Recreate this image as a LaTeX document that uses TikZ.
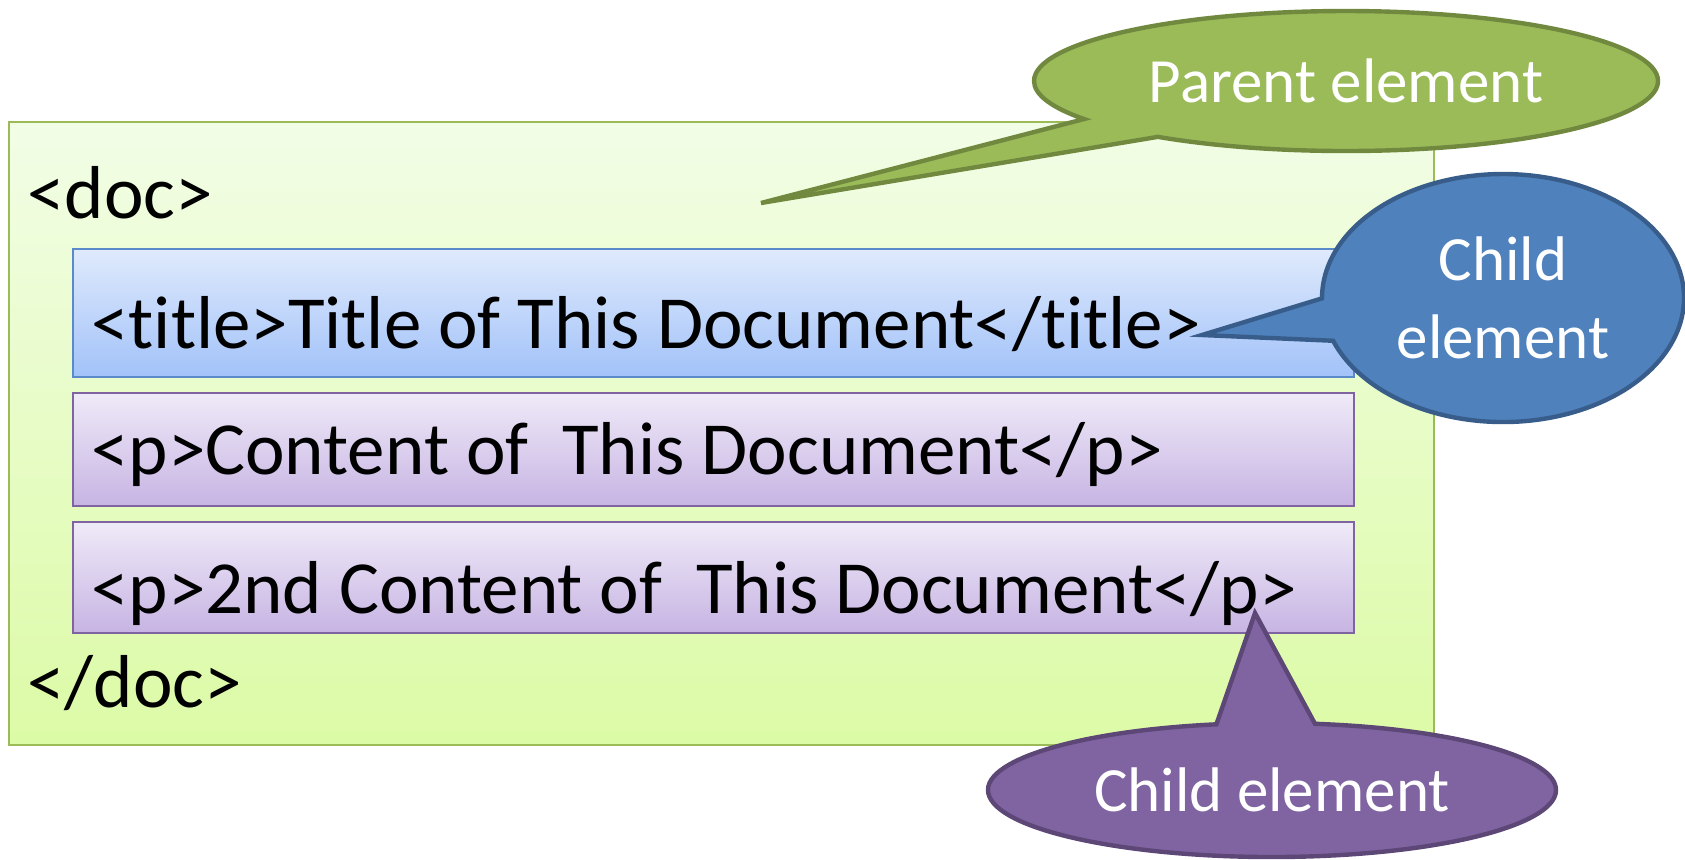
\documentclass[tikz,border=0pt]{standalone}
\usepackage{fontspec}
\setmainfont{Carlito}[Ligatures=NoCommon]
\usetikzlibrary{shapes.callouts,shapes.geometric}
\definecolor{gfill}{HTML}{9BBB59}
\definecolor{gline}{HTML}{71893F}
\definecolor{bfill}{HTML}{4F81BD}
\definecolor{bline}{HTML}{385D8A}
\definecolor{pfill}{HTML}{8064A2}
\definecolor{pline}{HTML}{5C4776}
\definecolor{outtop}{HTML}{F2FDE6}
\definecolor{outbot}{HTML}{DCFBA6}
\definecolor{outline}{HTML}{9BBB59}
\definecolor{ttop}{HTML}{DFEAFC}
\definecolor{tbot}{HTML}{A2C2F9}
\definecolor{tline}{HTML}{5B8ACB}
\definecolor{ptop}{HTML}{EFEAF8}
\definecolor{pbot}{HTML}{C7B4E3}
\tikzset{
  outerbox/.style={draw=outline, line width=1pt, top color=outtop, bottom color=outbot, inner sep=0pt},
  titlebox/.style={draw=tline, line width=0.8pt, top color=ttop, bottom color=tbot, inner sep=0pt},
  parabox/.style={draw=pfill, line width=0.8pt, top color=ptop, bottom color=pbot, inner sep=0pt},
  code/.style={anchor=base west, inner sep=0pt, font=\fontsize{37.5}{45}\selectfont},
  bubble/.style={ellipse callout, inner sep=0pt, line width=2.2pt, text=white,
    font=\fontsize{31.5}{39}\selectfont, align=center, callout pointer arc=20},
}
\begin{document}
\begin{tikzpicture}[x=0.5pt,y=-0.5pt]
\useasboundingbox (0,0) rectangle (1685,859);
% outer parent box
\node[outerbox, minimum width=712.5pt, minimum height=311.5pt] (doc) at (721.5,433.5) {};
% child boxes
\node[titlebox, minimum width=640.5pt, minimum height=64pt] (title) at (713.5,313) {};
\node[parabox, minimum width=640.5pt, minimum height=56.5pt] (p1) at (713.5,449.5) {};
\node[parabox, minimum width=640.5pt, minimum height=55.5pt] (p2) at (713.5,577.5) {};
% texts
\node[code] (docopen) at (27,218) {<doc>};
\node[code] (titletxt) at (91,348) {<title>Title of This Document</title>};
\node[code] (p1txt) at (91,474) {<p>Content of\ \ This Document</p>};
\node[code] (p2txt) at (91,613) {<p>2nd Content of\ \ This Document</p>};
\node[code] (docclose) at (27,707) {</doc>};
% pointer tips
\coordinate (tipA) at (761,203);
\coordinate (tipB) at (1202,335);
\coordinate (tipC) at (1255,613);
% callouts
\node[bubble, fill=gfill, draw=gline, minimum width=312pt, minimum height=70pt,
  callout absolute pointer=(tipA)] (parent) at (1346,81) {Parent element};
\node[bubble, fill=bfill, draw=bline, minimum width=181pt, minimum height=124pt,
  callout absolute pointer=(tipB)] (child1) at (1503,298) {Child\\element};
\node[bubble, fill=pfill, draw=pline, minimum width=284pt, minimum height=67pt,
  callout absolute pointer=(tipC)] (child2) at (1272,790) {Child element};
\end{tikzpicture}
\end{document}
